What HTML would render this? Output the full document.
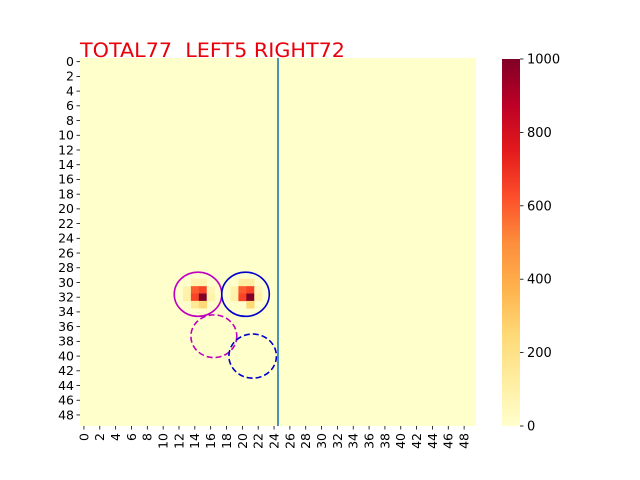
<!DOCTYPE html>
<html><head><meta charset="utf-8"><style>body{margin:0;background:#fff}svg{display:block}text{font-family:"DejaVu Sans","Liberation Sans",sans-serif;white-space:pre}</style></head>
<body>
<svg id="c" width="640" height="480" xmlns="http://www.w3.org/2000/svg"></svg>
<script>
const nRows = 50;
const nCols = 50;
// hot cells: [row, col, value]
const hotCells = [
 [30,14,80],[30,15,80],[31,13,90],[31,14,600],[31,15,650],[31,16,60],
 [32,13,100],[32,14,650],[32,15,1000],[32,16,90],[33,14,150],[33,15,250],
 [30,20,120],[30,21,120],[31,19,90],[31,20,600],[31,21,650],[31,22,60],
 [32,19,100],[32,20,650],[32,21,1000],[32,22,90],[33,21,250]
];
const circleCenters = [[14.9,32.1],[20.9,32.1],[16.9,37.8],[21.8,40.5]];
const circleRadii = [3,3,2.9,3];
const circleColors = ['#bf00bf','#0000cc','#bf00bf','#0000cc'];
const circleDashed = [false,false,true,true];
const splitCol = 25;
const cbTicks = [0,200,400,600,800,1000];
const titleText = 'TOTAL77  LEFT5 RIGHT72';

const X0=80,X1=476,Y0=58,Y1=426;
const cw=(X1-X0)/nCols, ch=(Y1-Y0)/nRows;
const xs=c=>X0+c*cw, ys=r=>Y0+r*ch;
const stops=['#ffffcc','#ffeda0','#fed976','#feb24c','#fd8d3c','#fc4e2a','#e31a1c','#bd0026','#800026'];
function hex(h){return [1,3,5].map(i=>parseInt(h.substr(i,2),16));}
function cmap(v){let t=Math.max(0,Math.min(1,v/1000))*(stops.length-1);let i=Math.min(stops.length-2,Math.floor(t));let f=t-i;let a=hex(stops[i]),b=hex(stops[i+1]);return 'rgb('+a.map((x,k)=>Math.round(x+(b[k]-x)*f)).join(',')+')';}
const svg=document.getElementById('c');const NS='http://www.w3.org/2000/svg';
function el(t,a,p){const e=document.createElementNS(NS,t);for(const k in a)e.setAttribute(k,a[k]);(p||svg).appendChild(e);return e;}
const bg=el('rect',{x:X0,y:Y0,width:X1-X0,height:Y1-Y0,fill:cmap(0)});


hotCells.forEach(([r,c,v])=>{const e=el('rect',{x:xs(c),y:ys(r),width:cw+0.3,height:ch+0.3,fill:cmap(v)});

});
circleCenters.forEach((p,i)=>{const e=el('ellipse',{cx:xs(p[0]),cy:ys(p[1]),rx:circleRadii[i]*cw,ry:circleRadii[i]*ch,fill:'none',stroke:circleColors[i],'stroke-width':1.6,'stroke-dasharray':circleDashed[i]?'6,3':'none'});

});
const vl=el('line',{x1:xs(splitCol),x2:xs(splitCol),y1:Y0,y2:Y1,stroke:'#1f77b4','stroke-width':1.6});


for(let i=0;i<nRows;i+=2){const y=ys(i+0.5);el('line',{x1:X0-3.5,x2:X0,y1:y,y2:y,stroke:'#000','stroke-width':0.8});
const t=el('text',{x:X0-6,y:y+4.3,'font-size':12.5,'text-anchor':'end'});t.textContent=i;

}
for(let i=0;i<nCols;i+=2){const x=xs(i+0.5);el('line',{x1:x,x2:x,y1:Y1,y2:Y1+3.5,stroke:'#000','stroke-width':0.8});
const t=el('text',{x:0,y:0,'font-size':12.5,'text-anchor':'end',transform:`translate(${x+4.4},${Y1+7}) rotate(-90)`});t.textContent=i;

}
const CB0=502,CB1=520;
const defs=el('defs',{});const g=el('linearGradient',{id:'g',x1:0,y1:1,x2:0,y2:0},defs);
stops.forEach((s,i)=>el('stop',{offset:i/(stops.length-1),'stop-color':s},g));
const cb=el('rect',{x:CB0,y:Y0+1,width:CB1-CB0,height:Y1-Y0-1,fill:'url(#g)'});


cbTicks.forEach(v=>{const y=Y1-(v/1000)*(Y1-Y0-1);el('line',{x1:CB1,x2:CB1+3.5,y1:y,y2:y,stroke:'#000','stroke-width':0.8});
const t=el('text',{x:CB1+7,y:y+4.5,'font-size':13});t.textContent=v;

});
const tt=el('text',{x:X0,y:Y0-1,'font-size':19.5,fill:'#e8000b',textLength:265,lengthAdjust:'spacingAndGlyphs'});tt.textContent=titleText;


</script>
</body></html>
